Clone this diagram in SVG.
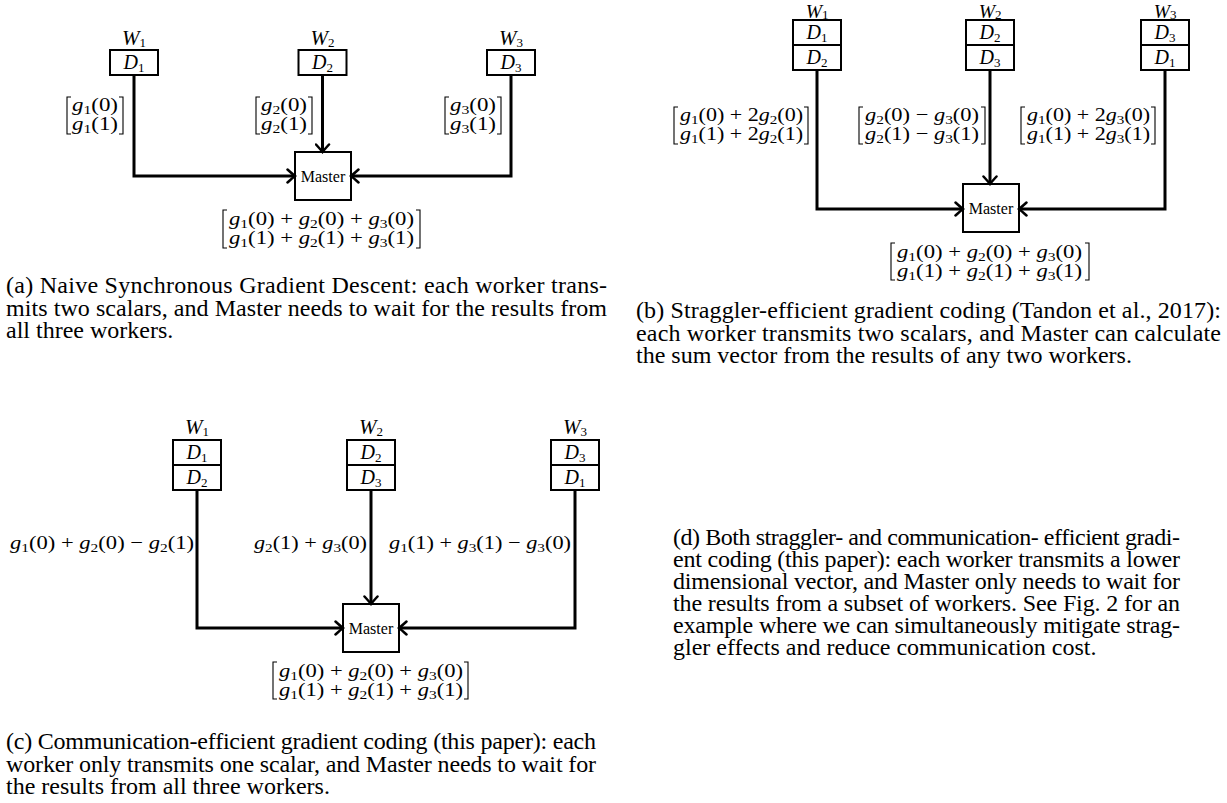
<svg xmlns="http://www.w3.org/2000/svg" width="1227" height="803" viewBox="0 0 1227 803">
<style>
text{font-family:"Liberation Serif","Times New Roman",serif;fill:#000}
.box{fill:#fff;stroke:#000;stroke-width:2}
.conn{fill:none;stroke:#000;stroke-width:3;stroke-linejoin:miter}
.br{fill:none;stroke:#000;stroke-width:1.1}
.cap{font-size:24px}
.m{font-size:19px}
.w{font-size:21px;text-anchor:middle}
.wt{font-size:19.5px;text-anchor:middle}
.d{font-size:20px;text-anchor:middle}
.ms{font-size:16px;text-anchor:middle}
.i{font-style:italic}
.s{font-size:13px}
</style>
<defs>
<marker id="arr" viewBox="-10 -8 12 16" refX="0" refY="0" markerWidth="12" markerHeight="16" markerUnits="userSpaceOnUse" orient="auto">
<path d="M-7.5,-6.5 Q-2,-1.5 0,0 Q-2,1.5 -7.5,6.5" fill="none" stroke="#000" stroke-width="2.5" stroke-linecap="round"/>
</marker>
</defs>

<!-- ===== Panel (a) ===== -->
<g id="a-W1">
<text class="w" x="134" y="45"><tspan class="i">W</tspan><tspan class="s" dy="2">1</tspan></text>
<rect class="box" x="110" y="50" width="48" height="25"/>
<text class="d" x="134" y="69"><tspan class="i">D</tspan><tspan class="s" dy="3">1</tspan></text>
</g>
<g id="a-W2">
<text class="w" x="322.5" y="45"><tspan class="i">W</tspan><tspan class="s" dy="2">2</tspan></text>
<rect class="box" x="298.5" y="50" width="48" height="25"/>
<text class="d" x="322.5" y="69"><tspan class="i">D</tspan><tspan class="s" dy="3">2</tspan></text>
</g>
<g id="a-W3">
<text class="w" x="511" y="45"><tspan class="i">W</tspan><tspan class="s" dy="2">3</tspan></text>
<rect class="box" x="487" y="50" width="48" height="25"/>
<text class="d" x="511" y="69"><tspan class="i">D</tspan><tspan class="s" dy="3">3</tspan></text>
</g>
<g id="a-Master">
<rect class="box" x="295" y="152" width="56" height="48"/>
<text class="ms" x="323" y="181.5">Master</text>
</g>

<!-- ===== Panel (b) ===== -->
<g id="b-W1">
<text class="wt" x="817" y="17.5"><tspan class="i">W</tspan><tspan class="s" dy="1.5">1</tspan></text>
<rect class="box" x="793" y="20" width="48" height="25"/>
<rect class="box" x="793" y="45" width="48" height="25"/>
<text class="d" x="817" y="39"><tspan class="i">D</tspan><tspan class="s" dy="3">1</tspan></text>
<text class="d" x="817" y="64"><tspan class="i">D</tspan><tspan class="s" dy="3">2</tspan></text>
</g>
<g id="b-W2">
<text class="wt" x="990" y="17.5"><tspan class="i">W</tspan><tspan class="s" dy="1.5">2</tspan></text>
<rect class="box" x="966" y="20" width="48" height="25"/>
<rect class="box" x="966" y="45" width="48" height="25"/>
<text class="d" x="990" y="39"><tspan class="i">D</tspan><tspan class="s" dy="3">2</tspan></text>
<text class="d" x="990" y="64"><tspan class="i">D</tspan><tspan class="s" dy="3">3</tspan></text>
</g>
<g id="b-W3">
<text class="wt" x="1165" y="17.5"><tspan class="i">W</tspan><tspan class="s" dy="1.5">3</tspan></text>
<rect class="box" x="1141" y="20" width="48" height="25"/>
<rect class="box" x="1141" y="45" width="48" height="25"/>
<text class="d" x="1165" y="39"><tspan class="i">D</tspan><tspan class="s" dy="3">3</tspan></text>
<text class="d" x="1165" y="64"><tspan class="i">D</tspan><tspan class="s" dy="3">1</tspan></text>
</g>
<g id="b-Master">
<rect class="box" x="963" y="184" width="56" height="48"/>
<text class="ms" x="991" y="213.5">Master</text>
</g>

<!-- ===== Panel (c) ===== -->
<g id="c-W1">
<text class="w" x="197" y="434"><tspan class="i">W</tspan><tspan class="s" dy="2">1</tspan></text>
<rect class="box" x="173" y="440" width="48" height="25"/>
<rect class="box" x="173" y="465" width="48" height="25"/>
<text class="d" x="197" y="459"><tspan class="i">D</tspan><tspan class="s" dy="3">1</tspan></text>
<text class="d" x="197" y="484"><tspan class="i">D</tspan><tspan class="s" dy="3">2</tspan></text>
</g>
<g id="c-W2">
<text class="w" x="371" y="434"><tspan class="i">W</tspan><tspan class="s" dy="2">2</tspan></text>
<rect class="box" x="347" y="440" width="48" height="25"/>
<rect class="box" x="347" y="465" width="48" height="25"/>
<text class="d" x="371" y="459"><tspan class="i">D</tspan><tspan class="s" dy="3">2</tspan></text>
<text class="d" x="371" y="484"><tspan class="i">D</tspan><tspan class="s" dy="3">3</tspan></text>
</g>
<g id="c-W3">
<text class="w" x="575" y="434"><tspan class="i">W</tspan><tspan class="s" dy="2">3</tspan></text>
<rect class="box" x="551" y="440" width="48" height="25"/>
<rect class="box" x="551" y="465" width="48" height="25"/>
<text class="d" x="575" y="459"><tspan class="i">D</tspan><tspan class="s" dy="3">3</tspan></text>
<text class="d" x="575" y="484"><tspan class="i">D</tspan><tspan class="s" dy="3">1</tspan></text>
</g>
<g id="c-Master">
<rect class="box" x="343" y="604" width="56" height="48"/>
<text class="ms" x="371" y="633.5">Master</text>
</g>

<!-- ===== Connectors ===== -->
<g id="connectors">
<polyline class="conn" points="134,75 134,176 295,176" marker-end="url(#arr)"/>
<polyline class="conn" points="322.5,75 322.5,152" marker-end="url(#arr)"/>
<polyline class="conn" points="511,75 511,176 351,176" marker-end="url(#arr)"/>

<polyline class="conn" points="817,70 817,209 963,209" marker-end="url(#arr)"/>
<polyline class="conn" points="990,70 990,184" marker-end="url(#arr)"/>
<polyline class="conn" points="1165,70 1165,209 1019,209" marker-end="url(#arr)"/>

<polyline class="conn" points="197,490 197,628 343,628" marker-end="url(#arr)"/>
<polyline class="conn" points="371,490 371,604" marker-end="url(#arr)"/>
<polyline class="conn" points="575,490 575,628 399,628" marker-end="url(#arr)"/>
</g>

<!-- ===== Edge / output labels ===== -->
<g id="labels">
<!-- (a) -->
<path class="br" d="M71,97 H67 V134 H71 M119,97 H123 V134 H119"/>
<text class="m"><tspan x="72" y="111" textLength="46" lengthAdjust="spacingAndGlyphs"><tspan class="i">g</tspan><tspan class="s" dy="3">1</tspan><tspan dy="-3">(0)</tspan></tspan><tspan x="72" y="129.5" textLength="46" lengthAdjust="spacingAndGlyphs"><tspan class="i">g</tspan><tspan class="s" dy="3">1</tspan><tspan dy="-3">(1)</tspan></tspan></text>
<path class="br" d="M260,97 H256 V134 H260 M308,97 H312 V134 H308"/>
<text class="m"><tspan x="261" y="111" textLength="46" lengthAdjust="spacingAndGlyphs"><tspan class="i">g</tspan><tspan class="s" dy="3">2</tspan><tspan dy="-3">(0)</tspan></tspan><tspan x="261" y="129.5" textLength="46" lengthAdjust="spacingAndGlyphs"><tspan class="i">g</tspan><tspan class="s" dy="3">2</tspan><tspan dy="-3">(1)</tspan></tspan></text>
<path class="br" d="M449,97 H445 V134 H449 M497,97 H501 V134 H497"/>
<text class="m"><tspan x="450" y="111" textLength="46" lengthAdjust="spacingAndGlyphs"><tspan class="i">g</tspan><tspan class="s" dy="3">3</tspan><tspan dy="-3">(0)</tspan></tspan><tspan x="450" y="129.5" textLength="46" lengthAdjust="spacingAndGlyphs"><tspan class="i">g</tspan><tspan class="s" dy="3">3</tspan><tspan dy="-3">(1)</tspan></tspan></text>
<path class="br" d="M227,210 H223 V248 H227 M416,210 H420 V248 H416"/>
<text class="m"><tspan x="229" y="225" textLength="185" lengthAdjust="spacingAndGlyphs"><tspan class="i">g</tspan><tspan class="s" dy="3">1</tspan><tspan dy="-3">(0) + </tspan><tspan class="i">g</tspan><tspan class="s" dy="3">2</tspan><tspan dy="-3">(0) + </tspan><tspan class="i">g</tspan><tspan class="s" dy="3">3</tspan><tspan dy="-3">(0)</tspan></tspan><tspan x="229" y="243.5" textLength="185" lengthAdjust="spacingAndGlyphs"><tspan class="i">g</tspan><tspan class="s" dy="3">1</tspan><tspan dy="-3">(1) + </tspan><tspan class="i">g</tspan><tspan class="s" dy="3">2</tspan><tspan dy="-3">(1) + </tspan><tspan class="i">g</tspan><tspan class="s" dy="3">3</tspan><tspan dy="-3">(1)</tspan></tspan></text>

<!-- (b) -->
<path class="br" d="M678,107 H674 V144 H678 M804,107 H808 V144 H804"/>
<text class="m"><tspan x="680" y="121" textLength="123" lengthAdjust="spacingAndGlyphs"><tspan class="i">g</tspan><tspan class="s" dy="3">1</tspan><tspan dy="-3">(0) + 2</tspan><tspan class="i">g</tspan><tspan class="s" dy="3">2</tspan><tspan dy="-3">(0)</tspan></tspan><tspan x="680" y="139.5" textLength="123" lengthAdjust="spacingAndGlyphs"><tspan class="i">g</tspan><tspan class="s" dy="3">1</tspan><tspan dy="-3">(1) + 2</tspan><tspan class="i">g</tspan><tspan class="s" dy="3">2</tspan><tspan dy="-3">(1)</tspan></tspan></text>
<path class="br" d="M863,107 H859 V144 H863 M981,107 H985 V144 H981"/>
<text class="m"><tspan x="865" y="121" textLength="114" lengthAdjust="spacingAndGlyphs"><tspan class="i">g</tspan><tspan class="s" dy="3">2</tspan><tspan dy="-3">(0) − </tspan><tspan class="i">g</tspan><tspan class="s" dy="3">3</tspan><tspan dy="-3">(0)</tspan></tspan><tspan x="865" y="139.5" textLength="114" lengthAdjust="spacingAndGlyphs"><tspan class="i">g</tspan><tspan class="s" dy="3">2</tspan><tspan dy="-3">(1) − </tspan><tspan class="i">g</tspan><tspan class="s" dy="3">3</tspan><tspan dy="-3">(1)</tspan></tspan></text>
<path class="br" d="M1025,107 H1021 V144 H1025 M1151,107 H1155 V144 H1151"/>
<text class="m"><tspan x="1027" y="121" textLength="123" lengthAdjust="spacingAndGlyphs"><tspan class="i">g</tspan><tspan class="s" dy="3">1</tspan><tspan dy="-3">(0) + 2</tspan><tspan class="i">g</tspan><tspan class="s" dy="3">3</tspan><tspan dy="-3">(0)</tspan></tspan><tspan x="1027" y="139.5" textLength="123" lengthAdjust="spacingAndGlyphs"><tspan class="i">g</tspan><tspan class="s" dy="3">1</tspan><tspan dy="-3">(1) + 2</tspan><tspan class="i">g</tspan><tspan class="s" dy="3">3</tspan><tspan dy="-3">(1)</tspan></tspan></text>
<path class="br" d="M895,243 H891 V280 H895 M1085,243 H1089 V280 H1085"/>
<text class="m"><tspan x="897" y="258" textLength="185" lengthAdjust="spacingAndGlyphs"><tspan class="i">g</tspan><tspan class="s" dy="3">1</tspan><tspan dy="-3">(0) + </tspan><tspan class="i">g</tspan><tspan class="s" dy="3">2</tspan><tspan dy="-3">(0) + </tspan><tspan class="i">g</tspan><tspan class="s" dy="3">3</tspan><tspan dy="-3">(0)</tspan></tspan><tspan x="897" y="276.5" textLength="185" lengthAdjust="spacingAndGlyphs"><tspan class="i">g</tspan><tspan class="s" dy="3">1</tspan><tspan dy="-3">(1) + </tspan><tspan class="i">g</tspan><tspan class="s" dy="3">2</tspan><tspan dy="-3">(1) + </tspan><tspan class="i">g</tspan><tspan class="s" dy="3">3</tspan><tspan dy="-3">(1)</tspan></tspan></text>

<!-- (c) -->
<text class="m" x="10" y="549" textLength="184" lengthAdjust="spacingAndGlyphs"><tspan class="i">g</tspan><tspan class="s" dy="3">1</tspan><tspan dy="-3">(0) + </tspan><tspan class="i">g</tspan><tspan class="s" dy="3">2</tspan><tspan dy="-3">(0) − </tspan><tspan class="i">g</tspan><tspan class="s" dy="3">2</tspan><tspan dy="-3">(1)</tspan></text>
<text class="m" x="254" y="549" textLength="113" lengthAdjust="spacingAndGlyphs"><tspan class="i">g</tspan><tspan class="s" dy="3">2</tspan><tspan dy="-3">(1) + </tspan><tspan class="i">g</tspan><tspan class="s" dy="3">3</tspan><tspan dy="-3">(0)</tspan></text>
<text class="m" x="389" y="549" textLength="182" lengthAdjust="spacingAndGlyphs"><tspan class="i">g</tspan><tspan class="s" dy="3">1</tspan><tspan dy="-3">(1) + </tspan><tspan class="i">g</tspan><tspan class="s" dy="3">3</tspan><tspan dy="-3">(1) − </tspan><tspan class="i">g</tspan><tspan class="s" dy="3">3</tspan><tspan dy="-3">(0)</tspan></text>
<path class="br" d="M277,662 H273 V699 H277 M464,662 H468 V699 H464"/>
<text class="m"><tspan x="279" y="677" textLength="184" lengthAdjust="spacingAndGlyphs"><tspan class="i">g</tspan><tspan class="s" dy="3">1</tspan><tspan dy="-3">(0) + </tspan><tspan class="i">g</tspan><tspan class="s" dy="3">2</tspan><tspan dy="-3">(0) + </tspan><tspan class="i">g</tspan><tspan class="s" dy="3">3</tspan><tspan dy="-3">(0)</tspan></tspan><tspan x="279" y="695.5" textLength="184" lengthAdjust="spacingAndGlyphs"><tspan class="i">g</tspan><tspan class="s" dy="3">1</tspan><tspan dy="-3">(1) + </tspan><tspan class="i">g</tspan><tspan class="s" dy="3">2</tspan><tspan dy="-3">(1) + </tspan><tspan class="i">g</tspan><tspan class="s" dy="3">3</tspan><tspan dy="-3">(1)</tspan></tspan></text>
</g>

<!-- ===== Captions ===== -->
<g id="captions">
<text class="cap"><tspan x="6" y="293" textLength="601" lengthAdjust="spacing">(a) Naive Synchronous Gradient Descent: each worker trans-</tspan><tspan x="6" y="315.5" textLength="601" lengthAdjust="spacing">mits two scalars, and Master needs to wait for the results from</tspan><tspan x="6" y="338">all three workers.</tspan></text>

<text class="cap"><tspan x="636" y="318" textLength="585" lengthAdjust="spacing">(b) Straggler-efficient gradient coding (Tandon et al., 2017):</tspan><tspan x="636" y="340.5" textLength="585" lengthAdjust="spacing">each worker transmits two scalars, and Master can calculate</tspan><tspan x="636" y="363">the sum vector from the results of any two workers.</tspan></text>

<text class="cap"><tspan x="673" y="545" textLength="507" lengthAdjust="spacing">(d) Both straggler- and communication- efficient gradi-</tspan><tspan x="673" y="567" textLength="507" lengthAdjust="spacing">ent coding (this paper): each worker transmits a lower</tspan><tspan x="673" y="589" textLength="507" lengthAdjust="spacing">dimensional vector, and Master only needs to wait for</tspan><tspan x="673" y="611" textLength="507" lengthAdjust="spacing">the results from a subset of workers. See Fig. 2 for an</tspan><tspan x="673" y="633" textLength="507" lengthAdjust="spacing">example where we can simultaneously mitigate strag-</tspan><tspan x="673" y="655">gler effects and reduce communication cost.</tspan></text>

<text class="cap"><tspan x="6" y="749" textLength="590" lengthAdjust="spacing">(c) Communication-efficient gradient coding (this paper): each</tspan><tspan x="6" y="771.5" textLength="590" lengthAdjust="spacing">worker only transmits one scalar, and Master needs to wait for</tspan><tspan x="6" y="794">the results from all three workers.</tspan></text>
</g>
</svg>
